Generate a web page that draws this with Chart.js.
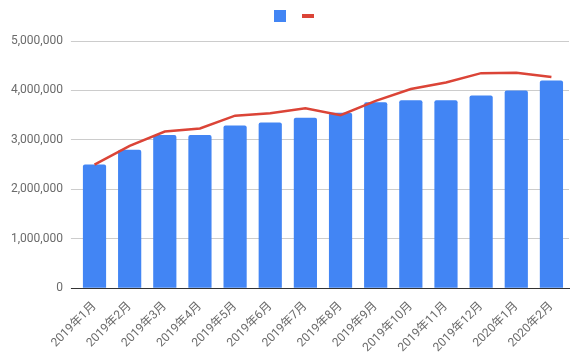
<!DOCTYPE html>
<html>
<head>
<meta charset="utf-8">
<script src="https://cdn.jsdelivr.net/npm/chart.js@4/dist/chart.umd.min.js"></script>
<style>
html,body{margin:0;padding:0;background:#fff;}
#wrap{width:577px;height:352px;}
</style>
</head>
<body>
<div id="wrap"><canvas id="c" width="577" height="352"></canvas></div>
<script>
const categories = ['2019年1月','2019年2月','2019年3月','2019年4月','2019年5月','2019年6月','2019年7月','2019年8月','2019年9月','2019年10月','2019年11月','2019年12月','2020年1月','2020年2月'];
const barValues = [2500000,2800000,3100000,3100000,3290000,3350000,3450000,3550000,3760000,3800000,3800000,3900000,4000000,4200000];
const lineValues = [2500000,2880000,3170000,3230000,3490000,3540000,3640000,3500000,3790000,4030000,4160000,4350000,4360000,4270000];
const yTicks = [0,1000000,2000000,3000000,4000000,5000000];

const FONT = "Roboto, Arial, 'Noto Sans CJK JP', sans-serif";
const legendAdjust = {
  id: 'legendAdjust',
  afterInit(chart) {
    const lg = chart.legend;
    if (lg && !lg._patched) {
      const f = lg.fit.bind(lg);
      lg.fit = function () { f(); this.height += 9; };
      lg._patched = true;
    }
  },
  afterLayout(chart) {
    const lg = chart.legend;
    if (lg) { lg.left += 11; lg.right += 11; }
  }
};

new Chart(document.getElementById('c'), {
  data: {
    labels: categories,
    datasets: [
      {
        type: 'line',
        label: '',
        data: lineValues,
        borderColor: '#DB4437',
        backgroundColor: '#DB4437',
        borderWidth: 2.5,
        pointRadius: 0,
        pointHoverRadius: 0,
        tension: 0,
        order: 0
      },
      {
        type: 'bar',
        label: '',
        data: barValues,
        backgroundColor: '#4285F4',
        borderRadius: {topLeft: 2, topRight: 2, bottomLeft: 0, bottomRight: 0},
        borderSkipped: 'bottom',
        categoryPercentage: 0.66,
        barPercentage: 1.0,
        order: 1
      }
    ]
  },
  options: {
    responsive: false,
    animation: false,
    events: [],
    layout: { padding: { left: 3, right: 8, top: 0, bottom: 0 } },
    plugins: {
      tooltip: { enabled: false },
      legend: {
        position: 'top',
        align: 'center',
        labels: {
          usePointStyle: true,
          pointStyleWidth: 12,
          boxHeight: 12,
          padding: 10,
          font: { family: FONT, size: 12 },
          generateLabels(chart) {
            return [
              { text: '', fillStyle: '#4285F4', strokeStyle: '#4285F4', lineWidth: 0, pointStyle: 'rect', datasetIndex: 1 },
              { text: '', fillStyle: '#DB4437', strokeStyle: '#DB4437', lineWidth: 4, pointStyle: 'line', datasetIndex: 0 }
            ];
          }
        }
      }
    },
    scales: {
      x: {
        grid: { display: false, drawTicks: false },
        border: { display: true, color: '#333', width: 1 },
        afterFit(axis) { axis.height -= 14; },
        ticks: {
          color: '#6b6b6b',
          font: { family: FONT, size: 12 },
          minRotation: 45,
          maxRotation: 45,
          autoSkip: false,
          padding: 11
        }
      },
      y: {
        min: 0,
        max: 5000000,
        afterBuildTicks(axis) { axis.ticks = yTicks.map(v => ({ value: v })); },
        grid: {
          color: (ctx) => ctx.tick && ctx.tick.value === 0 ? '#333' : '#ccc',
          lineWidth: 1,
          drawTicks: true,
          tickLength: 6
        },
        border: { display: false },
        ticks: {
          color: '#6b6b6b',
          font: { family: FONT, size: 12 },
          padding: 8,
          callback: (v) => Number(v).toLocaleString('en-US')
        }
      }
    }
  },
  plugins: [legendAdjust]
});
</script>
</body>
</html>
